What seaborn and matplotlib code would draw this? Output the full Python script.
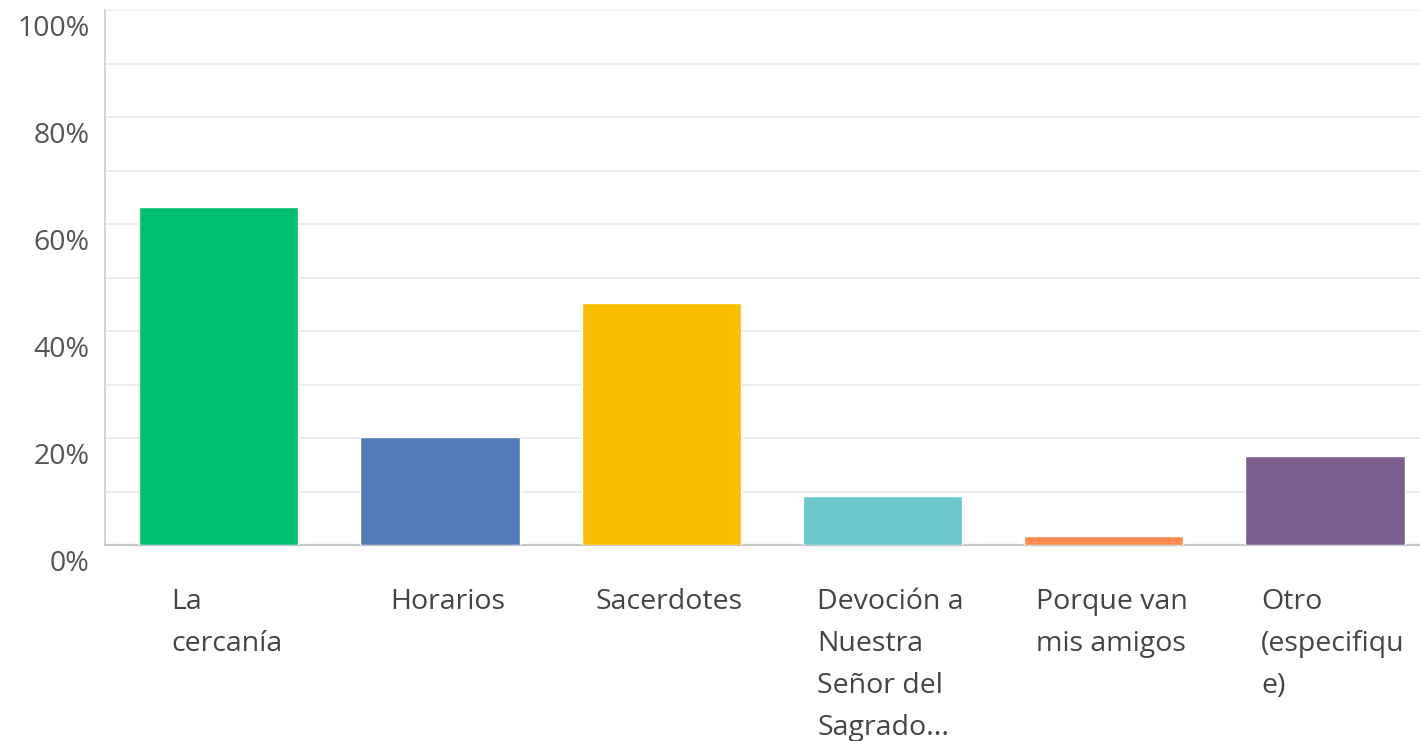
import matplotlib
matplotlib.use("Agg")
import matplotlib.pyplot as plt
import matplotlib.transforms as mtransforms
from matplotlib.ticker import MultipleLocator, FixedLocator
import seaborn as sns
import pandas as pd

# data
labels = ["La\ncercanía", "Horarios", "Sacerdotes",
          "Devoción a\nNuestra\nSeñor del\nSagrado...",
          "Porque van\nmis amigos", "Otro\n(especifiqu\ne)"]
values = [63.1, 20.2, 45.2, 9.2, 1.7, 16.7]
colors = ["#00BF6F", "#507CB6", "#F9BE00", "#6BC8CD", "#FF8B4F", "#7D5E90"]
y_ticks = [0, 20, 40, 60, 80, 100]

df = pd.DataFrame({"label": labels, "value": values})

sns.set_style("white")
plt.rcParams["font.family"] = ["Open Sans", "DejaVu Sans"]

fig = plt.figure(figsize=(14.2, 7.41), dpi=100)
ax = fig.add_axes([0.0739, 0.2645, 0.9261, 0.722])

sns.barplot(data=df, x="label", y="value", hue="label", palette=colors,
            legend=False, width=0.72, saturation=1, ax=ax, zorder=3)

ax.set_xlim(-0.515, 5.43)
ax.set_ylim(0, 100)
ax.yaxis.set_major_locator(FixedLocator(y_ticks))
ax.yaxis.set_minor_locator(MultipleLocator(10))
ax.set_yticklabels([f"{t}%" for t in y_ticks])
ax.grid(axis="y", which="both", color="#ebebeb", linewidth=1.3, zorder=0)
ax.grid(axis="x", visible=False)
ax.set_xlabel("")
ax.set_ylabel("")

for side in ["top", "right"]:
    ax.spines[side].set_visible(False)
ax.spines["left"].set_color("#d0d0d0")
ax.spines["bottom"].set_color("#c8c8c8")
ax.spines["left"].set_linewidth(1.3)
ax.spines["bottom"].set_linewidth(1.6)

ax.tick_params(axis="both", which="both", length=0)
ax.tick_params(axis="y", labelsize=20.5, labelcolor="#555555", pad=11)
ax.tick_params(axis="x", labelsize=20.5, labelcolor="#444444", pad=31)

# y labels sit a bit below their gridlines
offset_y = mtransforms.ScaledTranslation(0, -15 / 100, fig.dpi_scale_trans)
for lab in ax.get_yticklabels():
    lab.set_transform(lab.get_transform() + offset_y)

offset_x = mtransforms.ScaledTranslation(8 / 100, 0, fig.dpi_scale_trans)
for lab in ax.get_xticklabels():
    lab.set_multialignment("left")
    lab.set_linespacing(1.66)
    lab.set_verticalalignment("top")
    lab.set_transform(lab.get_transform() + offset_x)

fig.savefig("out.png", dpi=100, facecolor="white")
